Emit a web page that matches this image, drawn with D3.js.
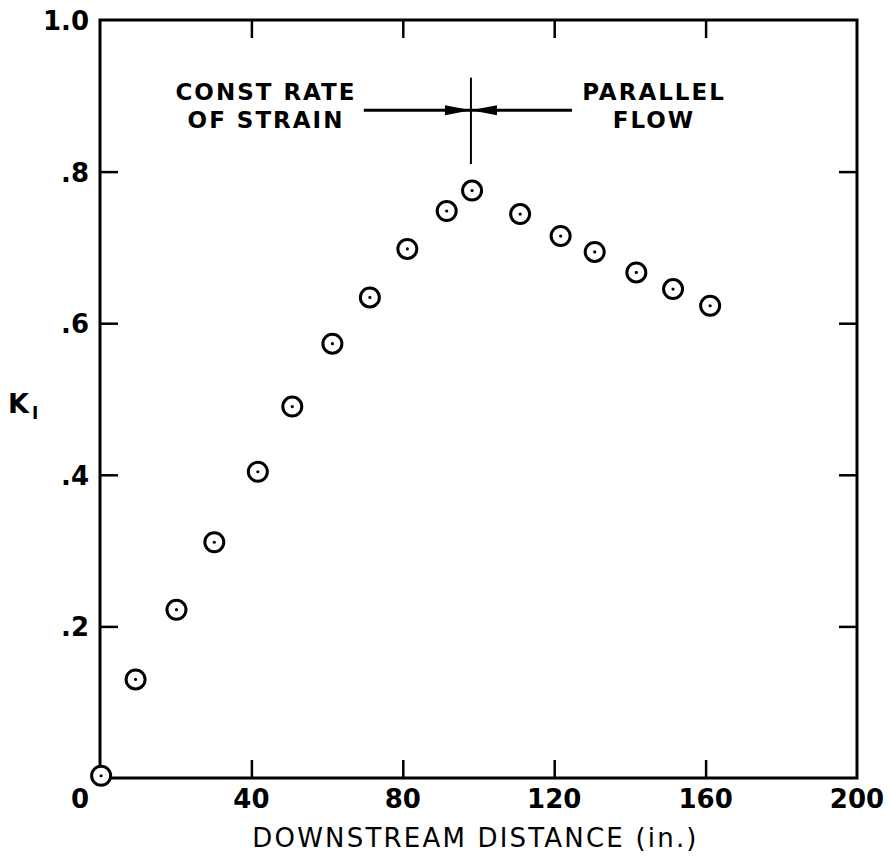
<!DOCTYPE html>
<html>
<head>
<meta charset="utf-8">
<script src="https://cdn.jsdelivr.net/npm/d3@7"></script>
<style>
  html, body { margin: 0; padding: 0; background: #fff; }
  svg { display: block; }
  text { font-family: "DejaVu Sans", "Liberation Sans", sans-serif; fill: #000; }
</style>
</head>
<body>
<svg id="chart" width="889" height="857"></svg>
<script>
// ---- data ----
const distance = [0.3, 9.4, 20.2, 30.2, 41.7, 50.8, 61.4, 71.3, 81.2, 91.6, 98.3, 111.0, 121.7, 130.7, 141.7, 151.4, 161.2];
const k1Values = [0.003, 0.130, 0.222, 0.311, 0.404, 0.490, 0.573, 0.634, 0.698, 0.748, 0.775, 0.744, 0.715, 0.694, 0.667, 0.645, 0.623];
const xTicks = [0, 40, 80, 120, 160, 200];
const xTickLabels = ["0", "40", "80", "120", "160", "200"];
const yTicks = [0.2, 0.4, 0.6, 0.8, 1.0];
const yTickLabels = [".2", ".4", ".6", ".8", "1.0"];
const xTitle = "DOWNSTREAM DISTANCE (in.)";
const yTitle = "K";
const yTitleSub = "I";
const regionBoundary = 98;     // x where the regimes meet
const regionArrowY = 0.881;    // y level of the arrows
const leftRegionLabel = ["CONST RATE", "OF STRAIN"];
const rightRegionLabel = ["PARALLEL", "FLOW"];

// ---- layout ----
const svg = d3.select("#chart");
const L = 100, R = 857, T = 20, B = 778;
const x = d3.scaleLinear().domain([0, 200]).range([L, R]);
const y = d3.scaleLinear().domain([0, 1.0]).range([B, T]);

const axisStroke = 3;
const tickLen = 18;

// frame
svg.append("rect")
  .attr("x", L).attr("y", T).attr("width", R - L).attr("height", B - T)
  .attr("fill", "none").attr("stroke", "#000").attr("stroke-width", axisStroke);

function styleAxis(g) {
  g.select(".domain").remove();
  g.selectAll(".tick line").attr("stroke", "#000").attr("stroke-width", 2.5);
}

// bottom axis (ticks inward)
const gx = svg.append("g").attr("transform", `translate(0,${B})`)
  .call(d3.axisBottom(x).tickValues(xTicks.slice(1, -1)).tickSize(-tickLen).tickFormat(""));
styleAxis(gx);
// top axis ticks
const gxt = svg.append("g").attr("transform", `translate(0,${T})`)
  .call(d3.axisTop(x).tickValues(xTicks.slice(1, -1)).tickSize(-tickLen).tickFormat(""));
styleAxis(gxt);
// left axis ticks
const gy = svg.append("g").attr("transform", `translate(${L},0)`)
  .call(d3.axisLeft(y).tickValues(yTicks.slice(0, -1)).tickSize(-tickLen).tickFormat(""));
styleAxis(gy);
// right axis ticks
const gyr = svg.append("g").attr("transform", `translate(${R},0)`)
  .call(d3.axisRight(y).tickValues(yTicks.slice(0, -1)).tickSize(-tickLen).tickFormat(""));
styleAxis(gyr);

// x tick labels
svg.append("g").selectAll("text").data(xTicks).join("text")
  .attr("x", (d, i) => x(d) + (d === 0 ? -20 : 0))
  .attr("y", 808)
  .attr("text-anchor", "middle")
  .attr("font-size", 26).attr("font-weight", "bold")
  .text((d, i) => xTickLabels[i]);

// y tick labels
svg.append("g").selectAll("text").data(yTicks).join("text")
  .attr("x", 89)
  .attr("y", d => y(d) + 10)
  .attr("text-anchor", "end")
  .attr("font-size", 26).attr("font-weight", "bold")
  .text((d, i) => yTickLabels[i]);

// axis titles
svg.append("text")
  .attr("x", (L + R) / 2 - 3).attr("y", 847)
  .attr("text-anchor", "middle")
  .attr("font-size", 26).attr("letter-spacing", 2.2)
  .text(xTitle);

const yt = svg.append("text").attr("x", 8).attr("y", 413)
  .attr("font-size", 27).attr("font-weight", "bold");
yt.append("tspan").text(yTitle);
yt.append("tspan").attr("dx", 3).attr("dy", 6).attr("font-size", 17).text(yTitleSub);

// region annotation
const bx = x(regionBoundary);
const ay = y(regionArrowY);
svg.append("line")
  .attr("x1", bx).attr("x2", bx).attr("y1", y(0.924)).attr("y2", y(0.81))
  .attr("stroke", "#000").attr("stroke-width", 2);
svg.append("line")
  .attr("x1", x(69.7)).attr("x2", x(124.7)).attr("y1", ay).attr("y2", ay)
  .attr("stroke", "#000").attr("stroke-width", 3);
// arrowheads
const ah = 26, aw = 5;
svg.append("path")
  .attr("d", `M${bx},${ay} L${bx - ah},${ay - aw} L${bx - ah},${ay + aw} Z`)
  .attr("fill", "#000");
svg.append("path")
  .attr("d", `M${bx},${ay} L${bx + ah},${ay - aw} L${bx + ah},${ay + aw} Z`)
  .attr("fill", "#000");

function regionLabel(lines, cx) {
  svg.append("g").selectAll("text").data(lines).join("text")
    .attr("x", cx)
    .attr("y", (d, i) => 100 + i * 28)
    .attr("text-anchor", "middle")
    .attr("font-size", 23).attr("font-weight", "bold").attr("letter-spacing", 2)
    .text(d => d);
}
regionLabel(leftRegionLabel, 266);
regionLabel(rightRegionLabel, 654);

// points: circle with a dot in the centre
const pts = svg.append("g").selectAll("g").data(distance.map((d, i) => [d, k1Values[i]])).join("g")
  .attr("transform", d => `translate(${x(d[0])},${y(d[1])})`);
pts.append("circle").attr("r", 9.5).attr("fill", "#fff").attr("stroke", "#000").attr("stroke-width", 3);
pts.append("circle").attr("r", 1.6).attr("fill", "#000");
</script>
</body>
</html>
